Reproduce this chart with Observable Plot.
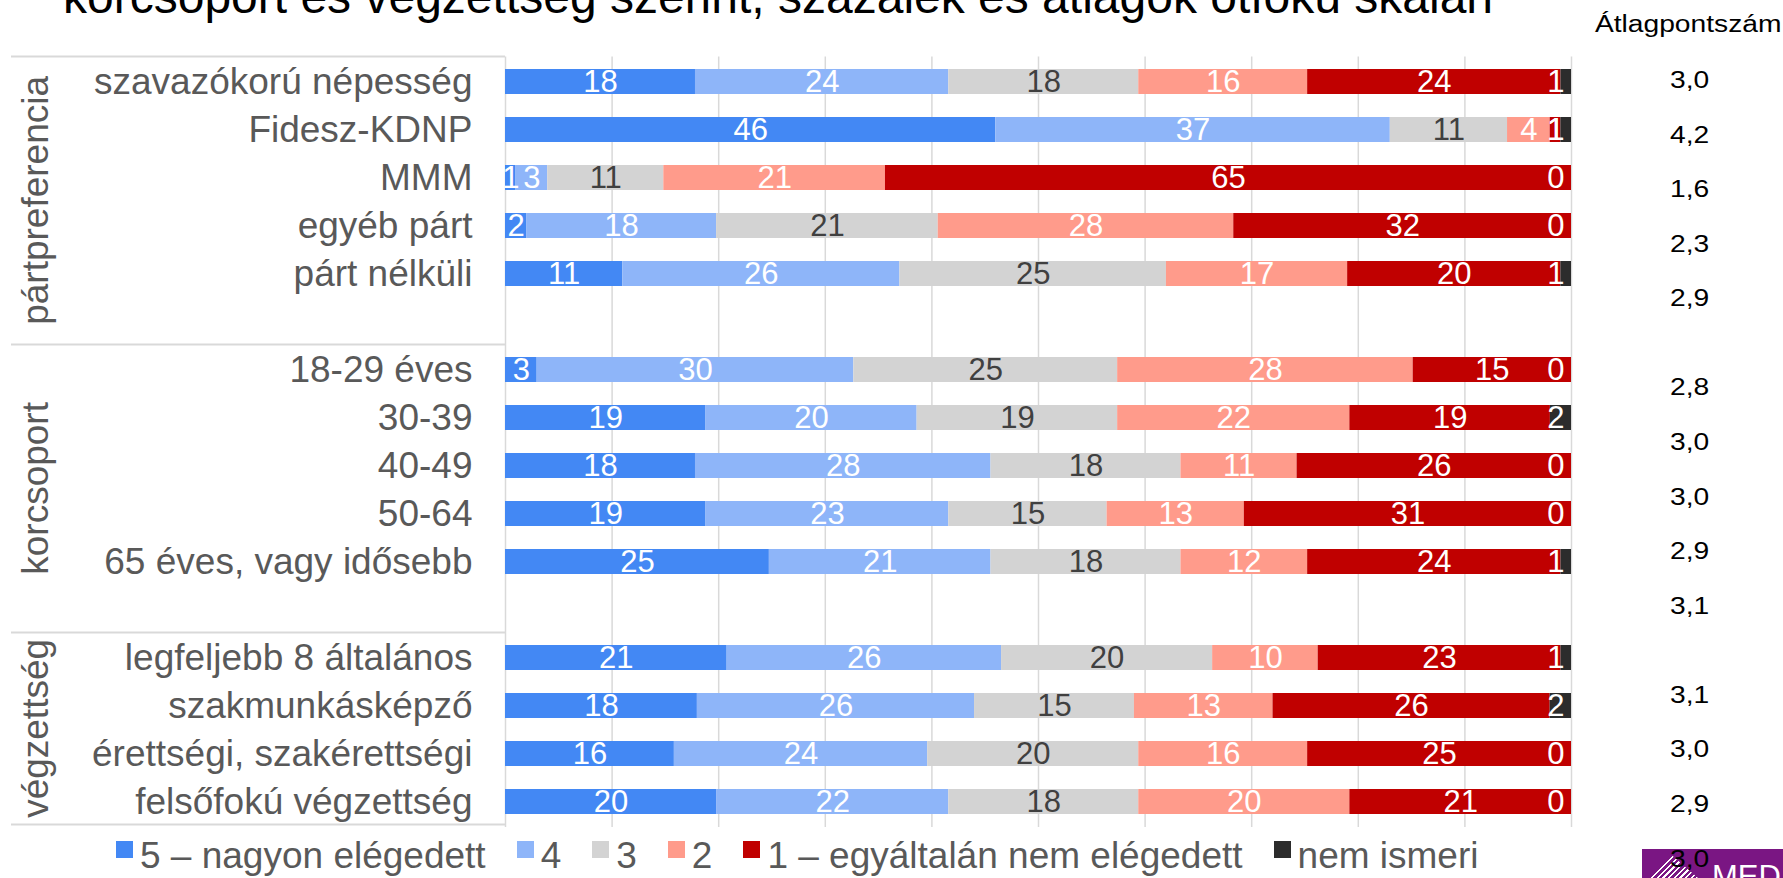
<!DOCTYPE html>
<html lang="hu">
<head>
<meta charset="utf-8">
<script src="https://cdn.jsdelivr.net/npm/d3@7"></script>
<script src="https://cdn.jsdelivr.net/npm/@observablehq/plot@0.6"></script>
<style>
html, body { margin:0; padding:0; width:1783px; height:878px; overflow:hidden; background:#fff; }
body { position:relative; font-family:"Liberation Sans", Arial, sans-serif; }
#title { position:absolute; left:63px; top:-27px; font-size:48px; line-height:48px; color:#000; white-space:nowrap; }
#chart { position:absolute; left:0; top:0; }
#chart svg { display:block; }
#legend { position:absolute; left:116px; top:835px; white-space:nowrap; }
#logo { position:absolute; left:1642px; top:849px; width:141px; height:29px; background:#7a1683; overflow:hidden; }
#logo .mk { position:absolute; left:8px; top:6px; width:48px; height:23px;
  background: repeating-linear-gradient(-45deg, #fff 0 1.5px, transparent 1.5px 4px);
  clip-path: polygon(0 100%, 45% 0, 100% 100%); }
#logo .nm { position:absolute; left:70px; top:12px; font-size:31px; line-height:31px; color:#fff; }
#avg { position:absolute; left:1628.6px; top:0; transform:scaleX(1.2); transform-origin:0 0; }
#avg svg { display:block; }
#avghead { position:absolute; right:2px; top:13px; font-size:23.5px; line-height:23.5px; color:#000;
  transform:scaleX(1.2); transform-origin:100% 0; white-space:nowrap; }
.lg-swatches { font-family:"Liberation Sans", Arial, sans-serif !important; font-size:37px !important; color:#595959; margin:0 !important; flex-wrap:nowrap !important; }
.lg-swatch { margin-right:31px !important; }
.lg-swatch > svg { margin-right:7px !important; position:relative; top:-7px; }
</style>
</head>
<body>
<div id="title"></div>
<div id="chart"></div>
<div id="legend"></div>
<div id="logo"><div class="mk"></div><div class="nm">MEDIÁN</div></div>
<div id="avg"></div>
<div id="avghead"></div>
<script>
// ---- data ----
const title = "korcsoport és végzettség szerint, százalék és átlagok ötfokú skálán";
const avgTitle = "Átlagpontszám";
const categories = [
  "szavazókorú népesség", "Fidesz-KDNP", "MMM", "egyéb párt", "párt nélküli",
  "18-29 éves", "30-39", "40-49", "50-64", "65 éves, vagy idősebb",
  "legfeljebb 8 általános", "szakmunkásképző", "érettségi, szakérettségi", "felsőfokú végzettség"
];
const groups = ["pártpreferencia", "korcsoport", "végzettség"];
const categoryGroup = [0,0,0,0,0, 1,1,1,1,1, 2,2,2,2];
const levels = ["5 – nagyon elégedett", "4", "3", "2", "1 – egyáltalán nem elégedett", "nem ismeri"];
const colors = ["#4388f4", "#8eb5f9", "#d3d3d3", "#ff9b8b", "#c00000", "#2c2c2c"];
const v5  = [18, 46,  1,  2, 11,  3, 19, 18, 19, 25, 21, 18, 16, 20];
const v4  = [24, 37,  3, 18, 26, 30, 20, 28, 23, 21, 26, 26, 24, 22];
const v3  = [18, 11, 11, 21, 25, 25, 19, 18, 15, 18, 20, 15, 20, 18];
const v2  = [16,  4, 21, 28, 17, 28, 22, 11, 13, 12, 10, 13, 16, 20];
const v1  = [24,  1, 65, 32, 20, 15, 19, 26, 31, 24, 23, 26, 25, 21];
const vNA = [ 1,  1,  0,  0,  1,  0,  2,  0,  0,  1,  1,  2,  0,  0];
const averages = [3.0, 4.2, 1.6, 2.3, 2.9, 2.8, 3.0, 3.0, 2.9, 3.1, 3.1, 3.0, 2.9, 3.0];

// ---- derived tables ----
const series = [v5, v4, v3, v2, v1, vNA];
const rows = [];
groups.forEach((g, gi) => {
  categories.forEach((c, ci) => { if (categoryGroup[ci] === gi) rows.push(c); });
  if (gi < groups.length - 1) rows.push("\u200b".repeat(gi + 1)); // empty spacer row
});
const data = categories.flatMap((c, ci) =>
  levels.map((l, li) => ({category: c, level: l, value: series[li][ci]})));

const W = 1783, H = 878;
const M = {left: 505, right: 212, top: 56.4, bottom: 50.9};
const font = '"Liberation Sans", Arial, sans-serif';
const lastLevel = levels[levels.length - 1];
const darkLevel = levels[2];

document.getElementById("title").textContent = title;
document.getElementById("avghead").textContent = avgTitle;

const chart = Plot.plot({
  width: W, height: H,
  marginLeft: M.left, marginRight: M.right, marginTop: M.top, marginBottom: M.bottom,
  style: {fontFamily: font, fontSize: "37px", color: "#595959", background: "transparent", overflow: "visible"},
  x: {domain: [0, 1], axis: null},
  y: {domain: rows, paddingInner: 0.47, paddingOuter: 0.235, axis: null},
  color: {domain: levels, range: colors},
  marks: [
    Plot.ruleX(d3.ticks(0, 1, 10), {stroke: "#d9d9d9", strokeWidth: 1.5}),
    Plot.barX(data, Plot.stackX({x: "value", y: "category", fill: "level", offset: "normalize"})),
    Plot.text(data, Plot.stackX({x: "value", y: "category", offset: "normalize",
      text: d => (d.level === lastLevel || d.level === darkLevel) ? "" : String(d.value),
      fill: "#fff", fontSize: 31})),
    Plot.text(data, Plot.stackX({x: "value", y: "category", offset: "normalize",
      text: d => d.level === darkLevel ? String(d.value) : "",
      fill: "#404040", fontSize: 31})),
    Plot.text(data.filter(d => d.level === lastLevel), {y: "category", frameAnchor: "right",
      textAnchor: "end", dx: -7, text: d => String(d.value), fill: "#fff", fontSize: 31}),
    Plot.text(categories, {y: d => d, frameAnchor: "left", textAnchor: "end", dx: -33,
      fill: "#595959", fontSize: 37})
  ]
});
document.getElementById("chart").appendChild(chart);

// table separators and rotated group labels, placed with the chart's y scale
const ys = chart.scale("y");
const r0 = ys.range[0];
const step = ys.step || (ys.range[1] - ys.range[0]) / rows.length;
const starts = groups.map((g, gi) => rows.indexOf(categories[categoryGroup.indexOf(gi)]));
const spans = starts.map((s, i) => [s, i < starts.length - 1 ? starts[i + 1] : rows.length]);
const bounds = [...starts, rows.length].map(k => r0 + k * step);
const svg = d3.select(chart);
svg.append("g").selectAll("line").data(bounds).join("line")
  .attr("x1", 11).attr("x2", M.left).attr("y1", d => d).attr("y2", d => d)
  .attr("stroke", "#d9d9d9").attr("stroke-width", 2);
svg.append("g").selectAll("text").data(groups).join("text")
  .attr("transform", (d, i) => `translate(48,${r0 + (spans[i][0] + spans[i][1]) / 2 * step}) rotate(-90)`)
  .attr("text-anchor", "middle").attr("font-size", 37).attr("fill", "#595959")
  .attr("font-family", font).text(d => d);

// legend from the chart's colour scale
const legend = chart.legend("color", {className: "lg", swatchSize: 17});
document.getElementById("legend").appendChild(legend);

// averages column (separate text box in the original, own line spacing)
const groupStride = 5.63;
const avgData = averages.map((v, i) => {
  const g = categoryGroup[i];
  return {label: v.toFixed(1).replace(".", ","), pos: (i - categoryGroup.indexOf(g)) + g * groupStride};
});
const avgPlot = Plot.plot({
  width: 100, height: H,
  marginTop: 80, marginBottom: H - 80 - 14 * 54.6, marginLeft: 0, marginRight: 0,
  y: {domain: [0, 14], reverse: true, axis: null},
  style: {fontFamily: font, background: "transparent", overflow: "visible"},
  marks: [Plot.text(avgData, {y: "pos", text: "label", frameAnchor: "middle", fontSize: 23.5, fill: "#000"})]
});
document.getElementById("avg").appendChild(avgPlot);
</script>
</body>
</html>
